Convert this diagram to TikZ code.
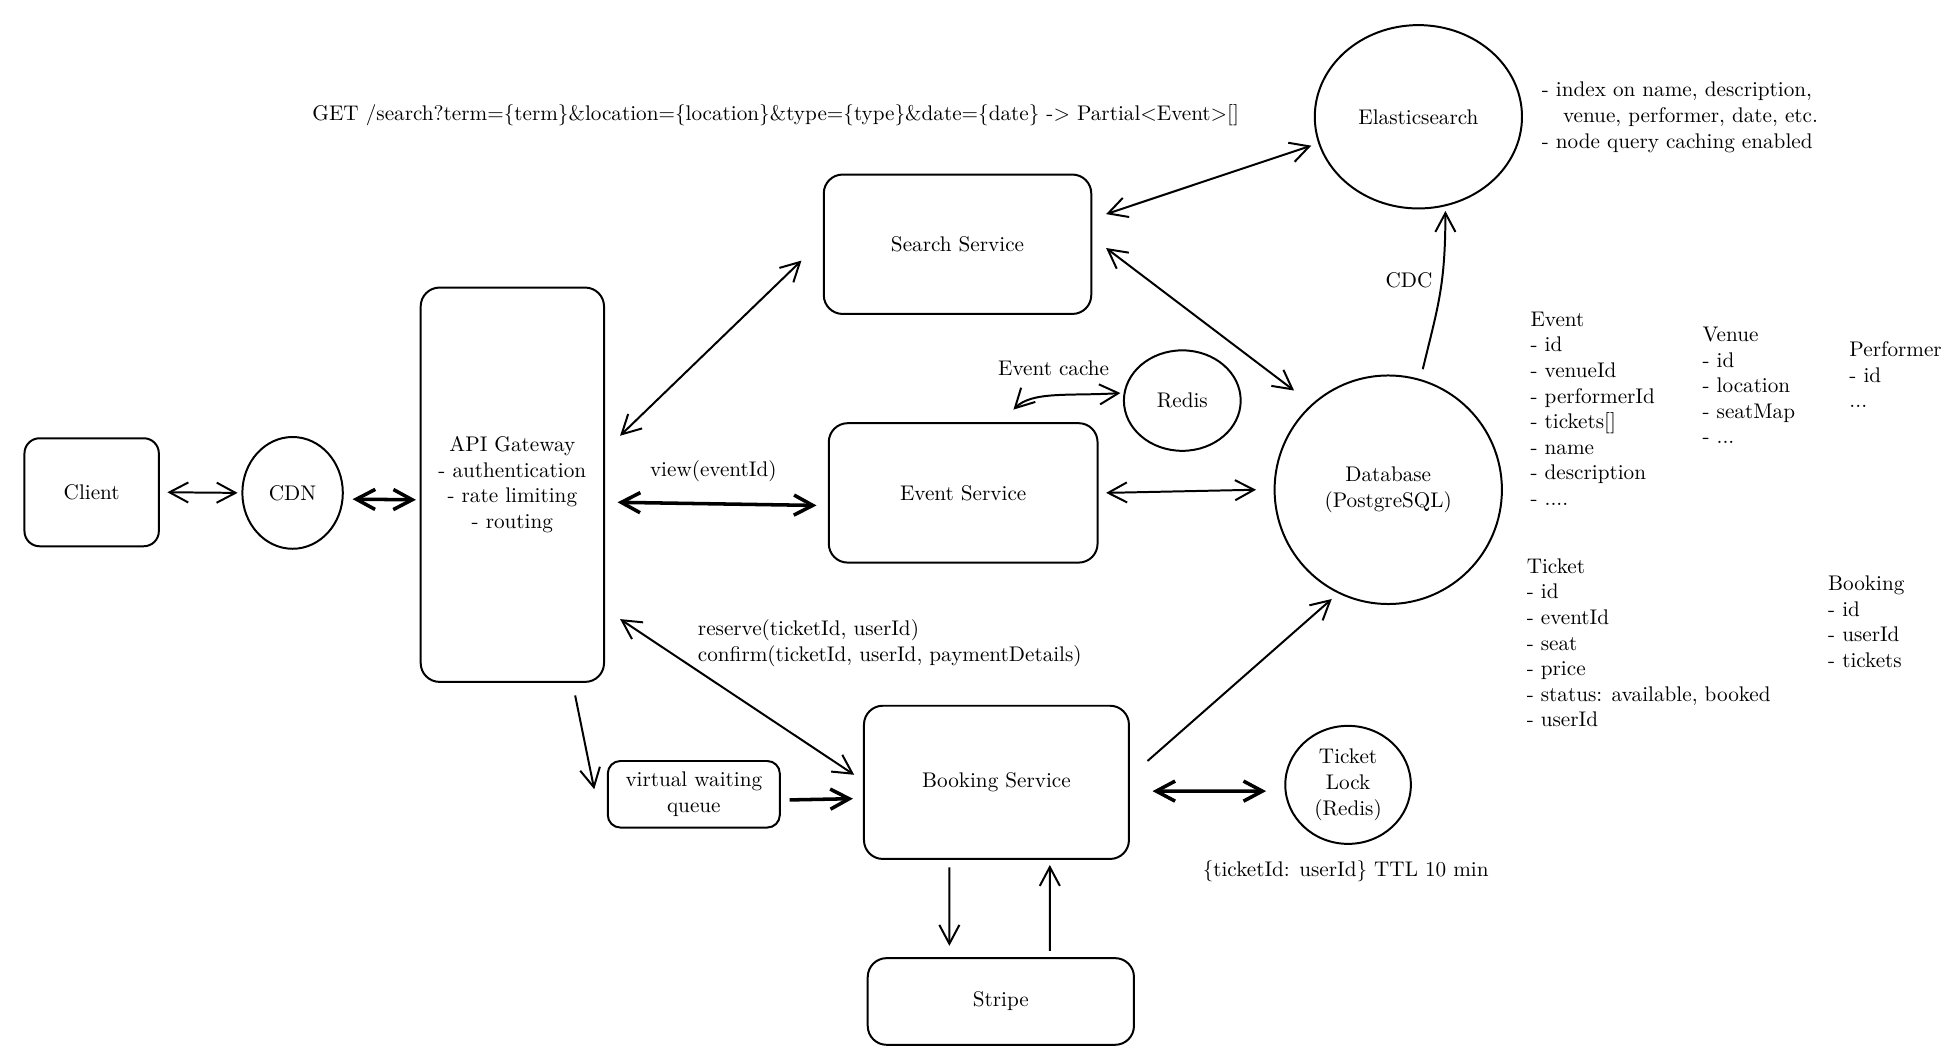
\documentclass[tikz,border=0pt]{standalone}
\usepackage{tikz}
\usetikzlibrary{arrows.meta,shapes.geometric}

\begin{document}
\begin{tikzpicture}[x=0.2mm,y=-0.2mm,>={Straight Barb[length=3mm,width=3.2mm]},line width=0.9pt,
  font=\fontsize{9.6}{11.6}\selectfont,
  service node/.style={rectangle,draw,rounded corners=3mm,align=center,inner sep=0pt},
  store node/.style={ellipse,draw,align=center,inner sep=0pt},
  note node/.style={anchor=west,align=left,inner sep=0pt},
  heavy/.style={line width=1.6pt}]

  \useasboundingbox (0,0) rectangle (1560,847);

  \node[service node,rounded corners=2.4mm,minimum width=21.4mm,minimum height=17.2mm] (client) at (73,392) {Client};
  \node[store node,minimum width=16mm,minimum height=17.8mm] (cdn) at (233,392.5) {CDN};
  \node[service node,minimum width=29.2mm,minimum height=62.8mm] (api) at (408,386) {API Gateway\\- authentication\\- rate limiting\\- routing};

  \node[service node,minimum width=42.6mm,minimum height=22.2mm] (search) at (762.5,194.5) {Search Service};
  \node[service node,minimum width=42.8mm,minimum height=22.2mm] (event) at (767,392.5) {Event Service};
  \node[service node,minimum width=42.2mm,minimum height=24.4mm] (booking) at (793.5,623) {Booking Service};
  \node[service node,minimum width=42.4mm,minimum height=13.8mm] (stripe) at (797,797.5) {Stripe};
  \node[service node,rounded corners=2mm,minimum width=27.4mm,minimum height=10.6mm] (queue) at (552.5,632.5) {virtual waiting\\queue};

  \node[store node,minimum width=33mm,minimum height=29.2mm] (es) at (1129.5,93) {Elasticsearch};
  \node[store node,minimum width=18.6mm,minimum height=16mm] (redis) at (941.5,319) {Redis};
  \node[store node,minimum width=36.2mm,minimum height=36.4mm] (db) at (1105.5,390) {Database\\(PostgreSQL)};
  \node[store node,minimum width=20mm,minimum height=18.8mm] (lock) at (1073.5,625) {Ticket\\Lock\\(Redis)};

  % labels
  \node[note node] (searchapi) at (248,92) {GET /search?term=\{term\}\&location=\{location\}\&type=\{type\}\&date=\{date\} -> Partial<Event>[]};
  \node[note node] (esnotes) at (1227,93.5) {- index on name, description,\\\hspace*{1em}venue, performer, date, etc.\\- node query caching enabled};
  \node (cdc) at (1122,223) {CDC};
  \node (cachelabel) at (839,293) {Event cache};
  \node (viewlabel) at (568,375) {view(eventId)};
  \node[note node] (bookinglabel) at (555,512) {reserve(ticketId, userId)\\confirm(ticketId, userId, paymentDetails)};
  \node[note node] (locklabel) at (957,694) {\{ticketId: userId\} TTL 10 min};

  % data model
  \node[note node] (eventmodel) at (1218,325.5) {Event\\- id\\- venueId\\- performerId\\- tickets[]\\- name\\- description\\- ....};
  \node[note node] (venuemodel) at (1355,307) {Venue\\- id\\- location\\- seatMap\\- ...};
  \node[note node] (performermodel) at (1472,298.5) {Performer\\- id\\...};
  \node[note node] (ticketmodel) at (1215,512) {Ticket\\- id\\- eventId\\- seat\\- price\\- status: available, booked\\- userId};
  \node[note node] (bookingmodel) at (1455,495) {Booking\\- id\\- userId\\- tickets};

  % client to gateway
  \draw[<->] ([xshift=1.2mm]client.east) to ([xshift=-0.6mm]cdn.west);
  \draw[<->,heavy] ([xshift=1.4mm,yshift=-1mm]cdn.east) to ([xshift=-0.6mm,yshift=-2.4mm]api.west);

  % gateway to services
  \draw[<->] ([xshift=2.4mm,yshift=7.8mm]api.east) to ([xshift=-3.4mm,yshift=-2.6mm]search.west);
  \draw[<->,heavy] ([xshift=2mm,yshift=-2.8mm]api.east) to ([xshift=-1.8mm,yshift=-2mm]event.west);
  \draw[<->] ([xshift=2.4mm,yshift=-21.4mm]api.east) to ([xshift=-1.4mm,yshift=1.2mm]booking.west);
  \draw[->] ([xshift=10mm,yshift=-2mm]api.south) to ([xshift=-2mm,yshift=0.8mm]queue.west);
  \draw[->,heavy] ([xshift=1.4mm,yshift=-0.9mm]queue.east) to ([xshift=-1.6mm,yshift=-2.6mm]booking.west);

  % services to stores
  \draw[<->] ([xshift=2.2mm,yshift=4.8mm]search.east) to ([xshift=-0.4mm,yshift=-4.6mm]es.west);
  \draw[<->] ([xshift=2.2mm,yshift=-0.6mm]search.east) to ([xshift=-15mm,yshift=15.8mm]db.center);
  \draw[<->] ([xshift=1.2mm]event.east) to ([xshift=-2.8mm]db.west);
  \draw[<->] ([xshift=8mm,yshift=2mm]event.north) .. controls +(3mm,3mm) and +(-8mm,-0.5mm) .. ([xshift=-0.4mm,yshift=1.2mm]redis.west);
  \draw[->] ([xshift=2.8mm,yshift=3.4mm]booking.east) to ([xshift=-9mm,yshift=-17.4mm]db.center);
  \draw[<->,heavy] ([xshift=3.6mm,yshift=-1.4mm]booking.east) to ([xshift=-2.9mm,yshift=-1mm]lock.west);

  % payments
  \draw[->] ([xshift=-7.5mm,yshift=-1.2mm]booking.south) to ([xshift=-8.2mm,yshift=1.8mm]stripe.north);
  \draw[->] ([xshift=7.8mm,yshift=1mm]stripe.north) to ([xshift=8.5mm,yshift=-0.8mm]booking.south);

  % change data capture
  \draw[->] ([xshift=5.5mm,yshift=19.2mm]db.center) .. controls +(2.4mm,10mm) and +(0,-12mm) .. ([xshift=4.3mm,yshift=-15mm]es.center);

\end{tikzpicture}
\end{document}
